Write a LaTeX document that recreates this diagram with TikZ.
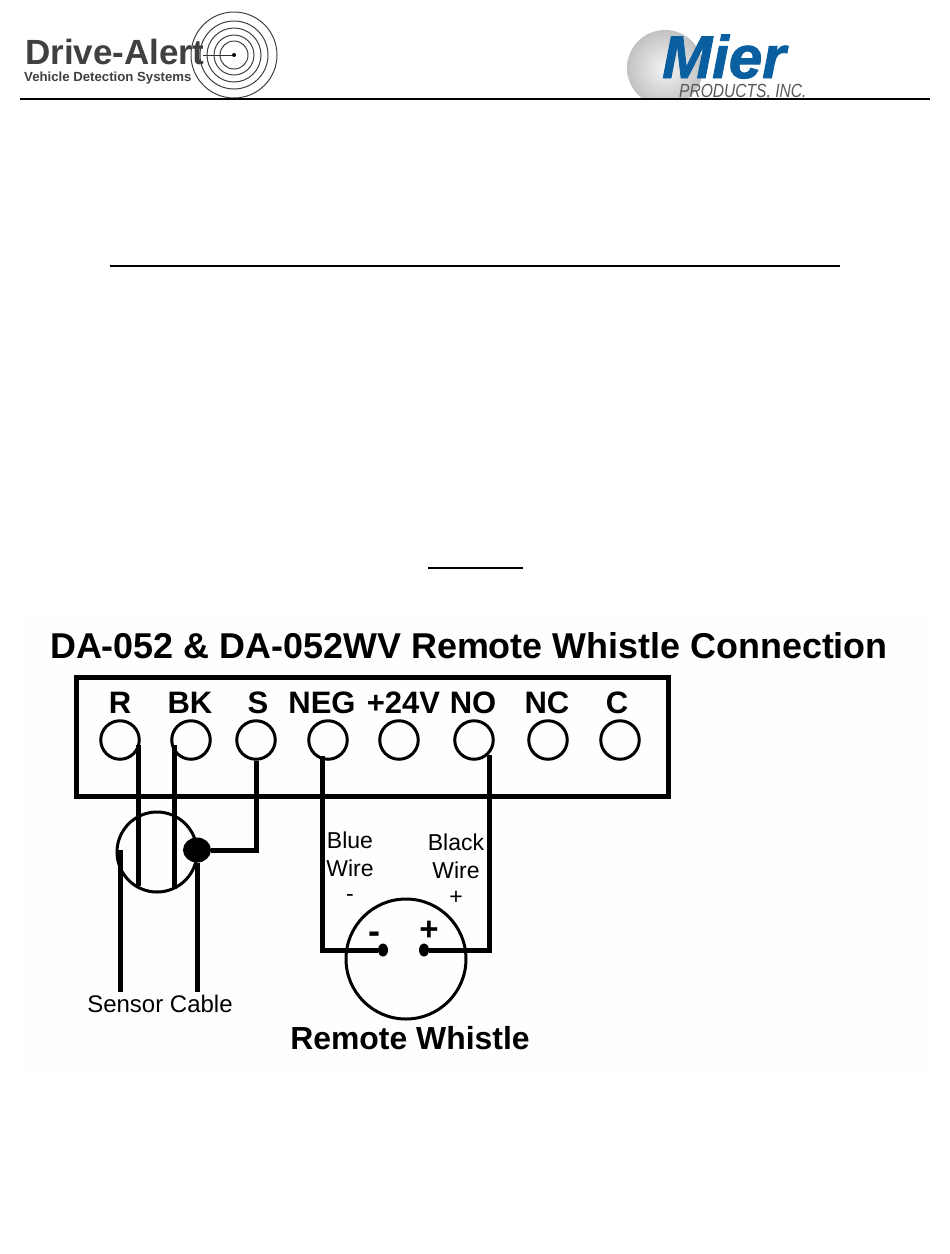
\documentclass[tikz,border=0pt]{standalone}
\usepackage{graphicx}
\usepackage{fontspec}
\usetikzlibrary{shapes.geometric}
\setmainfont{Liberation Sans}
\newfontfamily\heavyfont[FakeBold=1.6]{Liberation Sans}
\definecolor{logoGray}{gray}{0.25}
\definecolor{mierBlue}{RGB}{10,95,160}
\definecolor{panelTint}{gray}{0.995}
\tikzset{
  rulerLine/.style={line width=2pt,black},
  frameLine/.style={line width=5pt,black,line join=miter},
  wireLine/.style={line width=5pt,black,line join=miter},
  terminalRing/.style={circle,draw=black,line width=3pt,minimum size=38.5pt,inner sep=0pt},
  bodyRing/.style={circle,draw=black,line width=3pt,inner sep=0pt},
  termLabel/.style={inner sep=0pt,anchor=base,font=\fontsize{31}{31}\selectfont\bfseries},
  noteLabel/.style={inner sep=0pt,font=\fontsize{23}{23}\selectfont,align=center},
  solderDot/.style={ellipse,fill=black,inner sep=0pt},
  logoRing/.style={draw=black!75,line width=1pt}
}
\begin{document}
\begin{tikzpicture}[x=1pt,y=-1pt]
\useasboundingbox (0,0) rectangle (950,1254);
\fill[white] (0,0) rectangle (950,1254);
\fill[panelTint] (20,615) rectangle (930,1075);
% Drive-Alert logo
\node[anchor=base west,inner sep=0pt,text=logoGray,font=\fontsize{35}{35}\selectfont\bfseries] (daName) at (25,64) {Drive-Alert};
\node[anchor=base west,inner sep=0pt,text=logoGray,font=\fontsize{13.2}{13.2}\selectfont\bfseries] (daSub) at (24,81) {Vehicle Detection Systems};
\foreach \r in {14,20,27,34,43}{\draw[logoRing] (234,55) circle (\r);}
\coordinate (daStart) at (203,55);
\node[solderDot,minimum width=4pt,minimum height=4pt] (daDot) at (234,55) {};
\draw[black!80,line width=1pt] (daStart) -- (daDot);
% Mier logo
\begin{scope}
\clip (600,20) rectangle (720,98);
\shade[inner color=gray!8,outer color=gray!48] (665,68) circle (38);
\end{scope}
\node[anchor=base west,inner sep=0pt,text=mierBlue,font=\fontsize{60}{60}\heavyfont\bfseries\itshape] (mierName) at (662,78) {Mier};
\node[anchor=base west,inner sep=0pt,text=black!65] (mierSub) at (679,97) {\scalebox{0.82}[1]{\fontsize{19}{19}\selectfont\itshape PRODUCTS, INC.}};
% rules
\draw[rulerLine] (20,99) -- (930,99);
\draw[rulerLine] (110,266) -- (840,266);
\draw[rulerLine] (428,568) -- (523,568);
% title
\node[inner sep=0pt,font=\fontsize{35.9}{35.9}\selectfont\bfseries] (title) at (469,646) {DA-052 \& DA-052WV Remote Whistle Connection};
% terminal block
\draw[frameLine] (76,677) rectangle (668,796);
\foreach \n/\x/\t/\lx in {tR/120/R/120,tBK/191/BK/190,tS/256/S/258,tNEG/328/NEG/322,tPos/399/+24V/403.5,tNO/474/NO/473,tNC/548/NC/547,tC/620/C/617}{
  \node[terminalRing] (\n) at (\x,740) {};
  \node[termLabel] (l\n) at (\lx,713) {\t};
}
% sensor cable
\node[bodyRing,minimum size=80pt] (cable) at (157,852) {};
\coordinate (bR) at (138,745);
\coordinate (bBK) at (174,745);
\coordinate (cR) at (138,886);
\coordinate (cBK) at (174,889);
\coordinate (sR) at (120,850);
\coordinate (eR) at (120,992);
\coordinate (eS) at (197,992);
\coordinate (kS) at (256,850);
\node[solderDot,minimum width=28pt,minimum height=25pt] (cDot) at (197,850) {};
\draw[wireLine] (bR) -- (cR);
\draw[wireLine] (bBK) -- (cBK);
\draw[wireLine] (tS.south) -- (kS) -- (cDot);
\draw[wireLine] (sR) -- (eR);
\draw[wireLine] (cDot) -- (eS);
\node[noteLabel,font=\fontsize{24}{24}\selectfont] (sensorLabel) at (160,1004) {Sensor Cable};
% whistle
\node[bodyRing,minimum size=120pt] (whistle) at (406,959) {};
\node[solderDot,minimum width=10pt,minimum height=13pt] (pNeg) at (383,950) {};
\node[solderDot,minimum width=10pt,minimum height=13pt] (pPos) at (424,950) {};
\coordinate (bNEG) at (322,756);
\coordinate (kNEG) at (322,950);
\coordinate (bNO) at (489,755);
\coordinate (kNO) at (489,950);
\draw[wireLine] (bNEG) -- (kNEG) -- (pNeg);
\draw[wireLine] (bNO) -- (kNO) -- (pPos);
\node[inner sep=0pt,font=\fontsize{36}{36}\selectfont\bfseries] (wMinus) at (374,938) {-};
\node[inner sep=0pt,font=\fontsize{33}{33}\selectfont\bfseries] (wPlus) at (429,931) {+};
\node[noteLabel] (blueLabel) at (350,854) {Blue\\[5pt]Wire};
\node[noteLabel] (blackLabel) at (456,856) {Black\\[5pt]Wire};
\node[noteLabel] (blueSign) at (350,898) {-};
\node[noteLabel] (blackSign) at (456,898) {+};
\node[inner sep=0pt,font=\fontsize{31.9}{31.9}\selectfont\bfseries] (whistleLabel) at (410,1038) {Remote Whistle};
\end{tikzpicture}
\end{document}
